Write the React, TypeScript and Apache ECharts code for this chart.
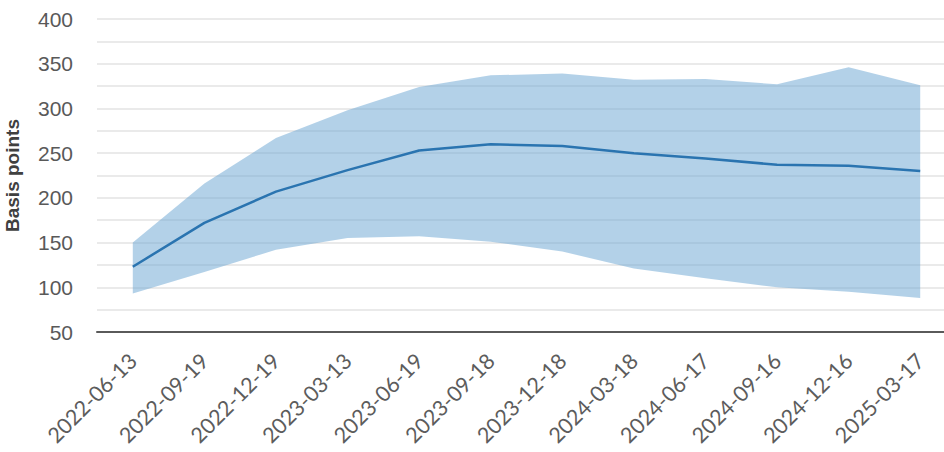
import React, { useEffect, useRef } from "react";
import * as echarts from "echarts";

const categories = [
  "2022-06-13", "2022-09-19", "2022-12-19", "2023-03-13", "2023-06-19", "2023-09-18",
  "2023-12-18", "2024-03-18", "2024-06-17", "2024-09-16", "2024-12-16", "2025-03-17",
];
const centralValues = [123, 172, 207, 231, 253, 260, 258, 250, 244, 237, 236, 230];
const upperValues = [150, 216, 267, 298, 324, 337, 339, 332, 333, 327, 346, 326];
const lowerValues = [93, 117, 142, 155, 157, 151, 140, 121, 110, 100, 95, 88];
const yTicks = { min: 50, max: 400, step: 25, labelStep: 50 };

export default function App() {
  const ref = useRef<HTMLDivElement>(null);
  useEffect(() => {
    if (!ref.current) return;
    const chart = echarts.init(ref.current, null, { renderer: "svg" });
    const bandWidth = upperValues.map((u, i) => u - lowerValues[i]);
    const yFont = "'Liberation Sans', Arial, sans-serif";
    const xFont = "Lato, 'Noto Sans', sans-serif";
    chart.setOption({
      animation: false,
      grid: {
        left: 97,
        right: -12,
        top: 19,
        bottom: 120,
        containLabel: false,
        outerBoundsMode: "none",
      },
      xAxis: {
        type: "category",
        data: categories,
        boundaryGap: true,
        axisLine: { show: true, lineStyle: { color: "#5a5a5a", width: 2 } },
        axisTick: { show: false },
        axisLabel: {
          rotate: 45,
          interval: 0,
          color: "#5c5c5c",
          fontSize: 21.5,
          fontFamily: xFont,
          margin: 25,
          hideOverlap: false,
        },
        splitLine: { show: false },
      },
      yAxis: {
        type: "value",
        min: yTicks.min,
        max: yTicks.max,
        interval: yTicks.step,
        name: "Basis points",
        nameLocation: "middle",
        nameGap: 75,
        nameTextStyle: { color: "#404040", fontSize: 19, fontFamily: yFont, fontWeight: "bold" },
        axisLine: { show: false },
        axisTick: { show: false },
        axisLabel: {
          color: "#595959",
          fontSize: 21,
          fontFamily: yFont,
          margin: 24,
          formatter: (v: number) => (v % yTicks.labelStep === 0 ? String(v) : ""),
        },
        splitLine: { show: true, lineStyle: { color: "#e3e3e3", width: 1.5 } },
      },
      series: [
        {
          name: "lower",
          type: "line",
          stack: "band",
          data: lowerValues,
          symbol: "none",
          lineStyle: { opacity: 0 },
          silent: true,
        },
        {
          name: "band",
          type: "line",
          stack: "band",
          data: bandWidth,
          symbol: "none",
          lineStyle: { opacity: 0 },
          areaStyle: { color: "rgba(110,166,210,0.52)", opacity: 1 },
          silent: true,
        },
        {
          name: "central",
          type: "line",
          data: centralValues,
          symbol: "none",
          lineStyle: { color: "#2a74b0", width: 2.5 },
          z: 5,
        },
      ],
    });
    return () => chart.dispose();
  }, []);
  return (
    <div
      ref={ref}
      style={{ position: "absolute", left: 0, top: 0, width: 944, height: 452, background: "#fff" }}
    />
  );
}
